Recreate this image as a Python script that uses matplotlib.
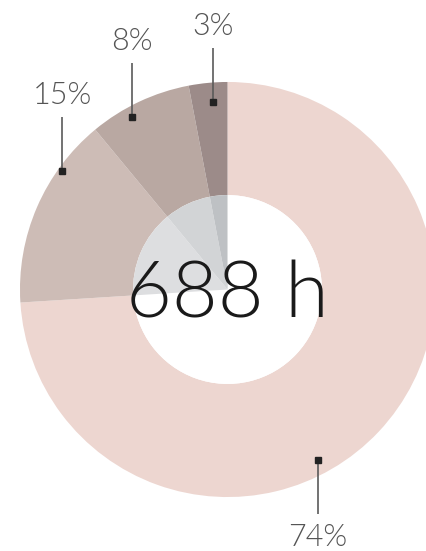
import numpy as np
import matplotlib.pyplot as plt
from matplotlib import font_manager

# shares of total hours, clockwise from 12 o'clock
labels = ["74%", "15%", "8%", "3%"]
shares = [74, 15, 8, 3]
total_hours = 688

ring_colors = ["#EDD6D0", "#CDBCB6", "#B9A8A2", "#9C8B89"]
hole_colors = ["#FFFFFF", "#DDDEE0", "#D2D4D6", "#BEC1C4"]

# where each leader marker sits inside its slice (fraction along slice, radius)
marker_frac = [0.571, 0.726, 0.37, 0.60]
marker_rad = [0.929, 0.98, 0.949, 0.905]
leader_up = [False, True, True, True]

inner_r = 0.455
leader_len = 0.26

# pick the light cut of Lato by file, the weight matcher grabs Thin otherwise
light = None
for f in font_manager.fontManager.ttflist:
    if f.fname.endswith("Lato-Light.ttf"):
        light = font_manager.FontProperties(fname=f.fname)
        break
if light is None:
    light = font_manager.FontProperties(family="DejaVu Sans")

fig = plt.figure(figsize=(4.27, 5.51), dpi=100)
ax = fig.add_axes([0, 0, 1, 1])

ax.pie(shares, radius=1, startangle=90, counterclock=False, colors=ring_colors,
       wedgeprops=dict(width=1 - inner_r, linewidth=0))
ax.pie(shares, radius=inner_r, startangle=90, counterclock=False, colors=hole_colors,
       wedgeprops=dict(linewidth=0))
ax.set_xlim(-1.096, 0.961)
ax.set_ylim(-1.260, 1.395)
ax.set_aspect("equal")
ax.axis("off")

# leader lines with small square markers
start = 90.0
for lab, s, f, r, up in zip(labels, shares, marker_frac, marker_rad, leader_up):
    span = s / sum(shares) * 360
    ang = np.radians(start - f * span)
    start -= span
    mx, my = r * np.cos(ang), r * np.sin(ang)
    ey = my + leader_len if up else my - leader_len
    ax.plot([mx, mx], [my, ey], color="#5a5a5a", lw=1.2, solid_capstyle="butt")
    ax.plot(mx, my, marker="s", ms=4.5, color="#222222", mec="#222222")
    ty = ey + 0.063 if up else ey - 0.154
    ax.text(mx, ty, lab, ha="center", va="baseline", fontsize=22,
            fontproperties=light, color="#555555")

ax.text(0, -0.137, f"{total_hours} h", ha="center", va="baseline", fontsize=57,
        fontproperties=light, color="#1a1a1a")

fig.savefig("out.png", dpi=100)
